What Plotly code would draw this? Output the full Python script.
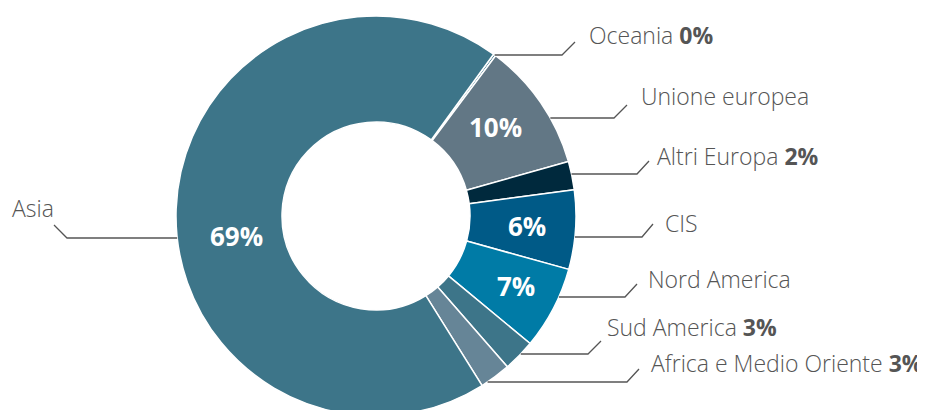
import math
import plotly.graph_objects as go

# ---- data ----
categories = ["Oceania", "Unione europea", "Altri Europa", "CIS",
              "Nord America", "Sud America", "Africa e Medio Oriente", "Asia"]
values = [0.2, 10.4, 2.3, 6.4, 6.7, 2.6, 2.5, 68.9]
pct_labels = ["0%", "10%", "2%", "6%", "7%", "3%", "3%", "69%"]
show_inside = [False, True, False, True, True, False, False, True]
show_pct_outside = [True, False, True, False, False, True, True, False]
colors = ["#3d7589", "#627785", "#00293d", "#005a87", "#007ba6",
          "#3d7589", "#668597", "#3d7589"]

# ---- layout constants (page pixel coordinates) ----
W, H = 925, 410
OFF = 8            # page body margin offset
PCX, PCY, R = 376.0, 216.0, 200.0   # donut centre / radius on page
ROTATION = 36
# outside label layout: (line_y, elbow_x, end_x, end_y, label_x, label_y)
label_layout = [
    (55, 562, 575, 42, 587, 35),
    (118, 614, 627, 105, 639, 96),
    (174, 637, 649, 161, 655, 156),
    (237, 642, 653, 224, 663, 223),
    (297, 625, 637, 284, 646, 279),
    (354, 588, 601, 341, 605, 327),
    (382, 627, 639, 369, 649, 363),
    (238, 67, 54, 225, 10, 208),
]
# inside label placement: radius and angular nudge (deg) per slice
inside_r = [150, 149, 150, 151, 156, 150, 150, 141]
inside_nudge = [0, -2, 0, 0, -1, 0, 0, -10]

CX, CY = PCX - OFF, PCY - OFF        # figure coordinates
MT = CY - R
MB = H - (CY + R)

fig = go.Figure(go.Pie(
    labels=categories, values=values, sort=False, direction="clockwise",
    rotation=ROTATION, hole=0.47,
    marker=dict(colors=colors, line=dict(color="white", width=1.5)),
    textinfo="none",
    hoverinfo="skip", showlegend=False,
    domain=dict(x=[0, 2 * CX / W], y=[0, 1]),
))

def px(x):
    return (x - OFF) / W

def py(y):
    return 1 - (y - OFF - MT) / (H - MT - MB)

shapes, annotations = [], []

# outside labels with leader lines
for cat, pct, showp, (ly, ex, endx, endy, lx, lyy) in zip(
        categories, pct_labels, show_pct_outside, label_layout):
    dx = math.sqrt(max(R * R - (ly - PCY) ** 2, 0))
    sx = PCX + dx if ex > PCX else PCX - dx
    path = f"M {px(sx)},{py(ly)} L {px(ex)},{py(ly)} L {px(endx)},{py(endy)}"
    shapes.append(dict(type="path", path=path, xref="paper", yref="paper",
                       line=dict(color="#555555", width=1.3)))
    txt = cat + (f" <b>{pct}</b>" if showp else "")
    annotations.append(dict(x=px(lx), y=py(lyy), xref="paper", yref="paper",
                            text=txt, showarrow=False, xanchor="left",
                            yanchor="middle",
                            font=dict(family="Open Sans", size=23,
                                      color="#555555", weight=300)))

# inside percentage labels at each slice's mid-angle
total = sum(values)
cum = 0.0
for v, pct, show, r_, nudge in zip(values, pct_labels, show_inside,
                                   inside_r, inside_nudge):
    mid = ROTATION + 360.0 * (cum + v / 2.0) / total + nudge
    cum += v
    if not show:
        continue
    a = math.radians(mid)
    x = PCX + r_ * math.sin(a)
    y = PCY - r_ * math.cos(a)
    annotations.append(dict(x=px(x), y=py(y), xref="paper", yref="paper",
                            text=f"<b>{pct}</b>", showarrow=False,
                            xanchor="center", yanchor="middle",
                            font=dict(family="Open Sans", size=26,
                                      color="white")))

fig.update_layout(
    width=W, height=H, margin=dict(l=0, r=0, t=MT, b=MB),
    paper_bgcolor="white", plot_bgcolor="white",
    shapes=shapes, annotations=annotations,
)
fig.write_html("out.html")
